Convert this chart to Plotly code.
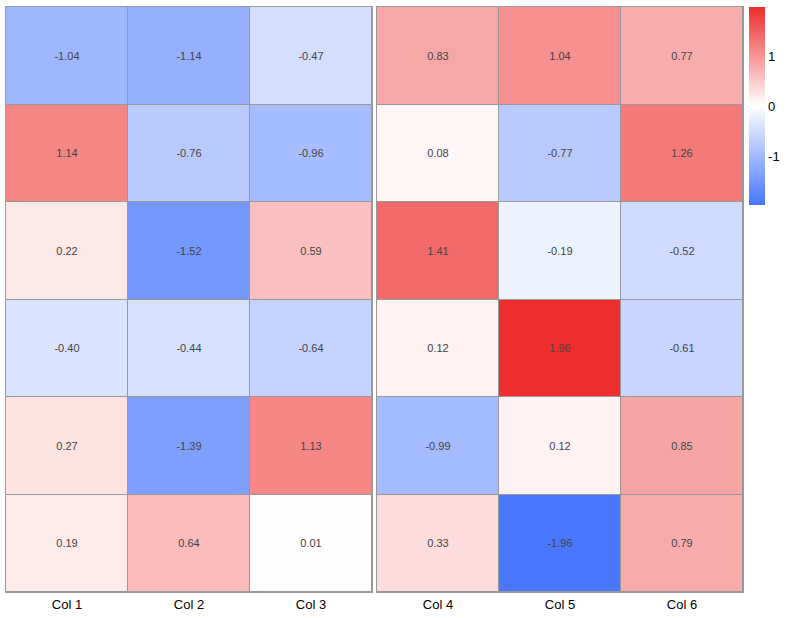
import plotly.graph_objects as go
from plotly.subplots import make_subplots

cols_left = ["Col 1", "Col 2", "Col 3"]
cols_right = ["Col 4", "Col 5", "Col 6"]
rows = ["Row 1", "Row 2", "Row 3", "Row 4", "Row 5", "Row 6"]

vals_left = [
    [-1.04, -1.14, -0.47],
    [1.14, -0.76, -0.96],
    [0.22, -1.52, 0.59],
    [-0.40, -0.44, -0.64],
    [0.27, -1.39, 1.13],
    [0.19, 0.64, 0.01],
]
vals_right = [
    [0.83, 1.04, 0.77],
    [0.08, -0.77, 1.26],
    [1.41, -0.19, -0.52],
    [0.12, 1.96, -0.61],
    [-0.99, 0.12, 0.85],
    [0.33, -1.96, 0.79],
]
cbar_ticks = [-1, 0, 1]
cbar_labels = ["-1", "0", "1"]

colorscale = [[0, "#4876FF"], [0.5, "#FFFFFF"], [1, "#EE2C2C"]]
zmin, zmax = -1.98, 1.98

W, H = 789, 618
ml, mr, mt, mb = 6, 46, 6, 25
pw = W - ml - mr
ph = H - mt - mb

fig = make_subplots(rows=1, cols=2, horizontal_spacing=5 / pw)

def txt(v):
    return [[f"{x:.2f}" for x in r] for r in v]

fig.add_trace(go.Heatmap(
    z=vals_left, x=cols_left, y=rows, text=txt(vals_left), texttemplate="%{text}",
    textfont=dict(size=11, color="#444444"),
    colorscale=colorscale, zmin=zmin, zmax=zmax, xgap=1, ygap=1,
    showscale=False, hoverinfo="skip"), row=1, col=1)
fig.add_trace(go.Heatmap(
    z=vals_right, x=cols_right, y=rows, text=txt(vals_right), texttemplate="%{text}",
    textfont=dict(size=11, color="#444444"),
    colorscale=colorscale, zmin=zmin, zmax=zmax, xgap=1, ygap=1,
    showscale=True, hoverinfo="skip",
    colorbar=dict(thickness=16, len=199 / ph, lenmode="fraction", y=1, yanchor="top",
                  x=1 + 6 / pw, xanchor="left", outlinewidth=0,
                  tickvals=cbar_ticks, ticktext=cbar_labels,
                  ticks="", tickfont=dict(size=13, color="#000000"), xpad=0, ypad=0)),
    row=1, col=2)

for i in (1, 2):
    fig.update_xaxes(showgrid=False, zeroline=False, showline=True, linecolor="#999999",
                     mirror=True, linewidth=1, ticks="", tickfont=dict(size=13, color="#000000"),
                     row=1, col=i)
    fig.update_yaxes(showgrid=False, zeroline=False, showline=True, linecolor="#999999",
                     mirror=True, linewidth=1, showticklabels=False, autorange="reversed",
                     row=1, col=i)

fig.update_layout(
    width=W, height=H, margin=dict(l=ml, r=mr, t=mt, b=mb),
    paper_bgcolor="white", plot_bgcolor="#999999",
    font=dict(family="Liberation Sans, Arial, sans-serif"),
)

fig.write_html("out.html", config={"displayModeBar": False},
               post_script="document.body.style.margin='0px';")
